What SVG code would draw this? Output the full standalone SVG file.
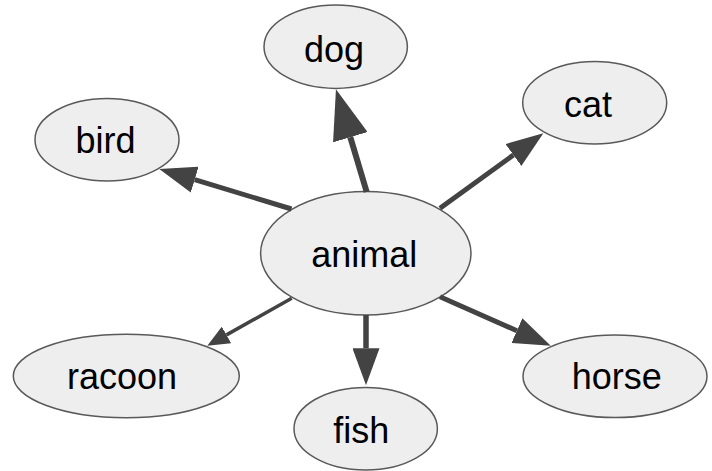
<svg xmlns="http://www.w3.org/2000/svg" width="712" height="471" viewBox="0 0 712 471">
  <style>
    .node ellipse { fill: #eeeeee; stroke: #595959; stroke-width: 1.5; }
    .node text { font-family: "Liberation Sans", Arial, sans-serif; font-size: 36px; fill: #000000; text-anchor: middle; }
    .edge { stroke: #434343; fill: none; stroke-linecap: butt; }
    .head { fill: #434343; }
  </style>
  <defs>
    <marker id="arrow-lg" markerUnits="userSpaceOnUse" markerWidth="50" markerHeight="36" refX="0" refY="18" orient="auto">
      <path class="head" d="M0,0 L50,18 L0,36 Z"/>
    </marker>
    <marker id="arrow-md" markerUnits="userSpaceOnUse" markerWidth="38" markerHeight="27" refX="0" refY="13.5" orient="auto">
      <path class="head" d="M0,0 L37,13.5 L0,27 Z"/>
    </marker>
    <marker id="arrow-sm" markerUnits="userSpaceOnUse" markerWidth="23" markerHeight="19" refX="0" refY="9.5" orient="auto">
      <path class="head" d="M0,0 L22,9.5 L0,19 Z"/>
    </marker>
  </defs>

  <g id="animal" class="node">
    <ellipse cx="365.8" cy="253.3" rx="105.2" ry="61.7"/>
    <text x="364.3" y="266.7">animal</text>
  </g>
  <g id="dog" class="node">
    <ellipse cx="335.7" cy="46.7" rx="71.7" ry="41.7"/>
    <text x="334" y="61.7">dog</text>
  </g>
  <g id="cat" class="node">
    <ellipse cx="594.7" cy="102.8" rx="72" ry="41.2"/>
    <text x="588" y="116.7">cat</text>
  </g>
  <g id="bird" class="node">
    <ellipse cx="107" cy="139.7" rx="72" ry="41.3"/>
    <text x="105.5" y="153.3">bird</text>
  </g>
  <g id="racoon" class="node">
    <ellipse cx="126.3" cy="376" rx="113" ry="41.7"/>
    <text x="122" y="389.3">racoon</text>
  </g>
  <g id="fish" class="node">
    <ellipse cx="365.7" cy="428.7" rx="71.7" ry="41.3"/>
    <text x="361.3" y="442.7">fish</text>
  </g>
  <g id="horse" class="node">
    <ellipse cx="615" cy="376.3" rx="92" ry="41.3"/>
    <text x="616.7" y="389.3">horse</text>
  </g>

  <g id="connectors">
    <line class="edge" x1="366.7" y1="192" x2="350.3" y2="137.2" stroke-width="6" marker-end="url(#arrow-lg)"/>
    <line class="edge" x1="440" y1="208.3" x2="513.4" y2="155" stroke-width="5" marker-end="url(#arrow-md)"/>
    <line class="edge" x1="291.5" y1="209" x2="194.7" y2="179.7" stroke-width="5" marker-end="url(#arrow-md)"/>
    <line class="edge" x1="291.7" y1="298.3" x2="226.5" y2="334.9" stroke-width="3.5" marker-end="url(#arrow-sm)"/>
    <line class="edge" x1="366" y1="315" x2="366" y2="348.3" stroke-width="5.5" marker-end="url(#arrow-md)"/>
    <line class="edge" x1="440" y1="296.7" x2="516.9" y2="330.7" stroke-width="5" marker-end="url(#arrow-md)"/>
  </g>
</svg>
